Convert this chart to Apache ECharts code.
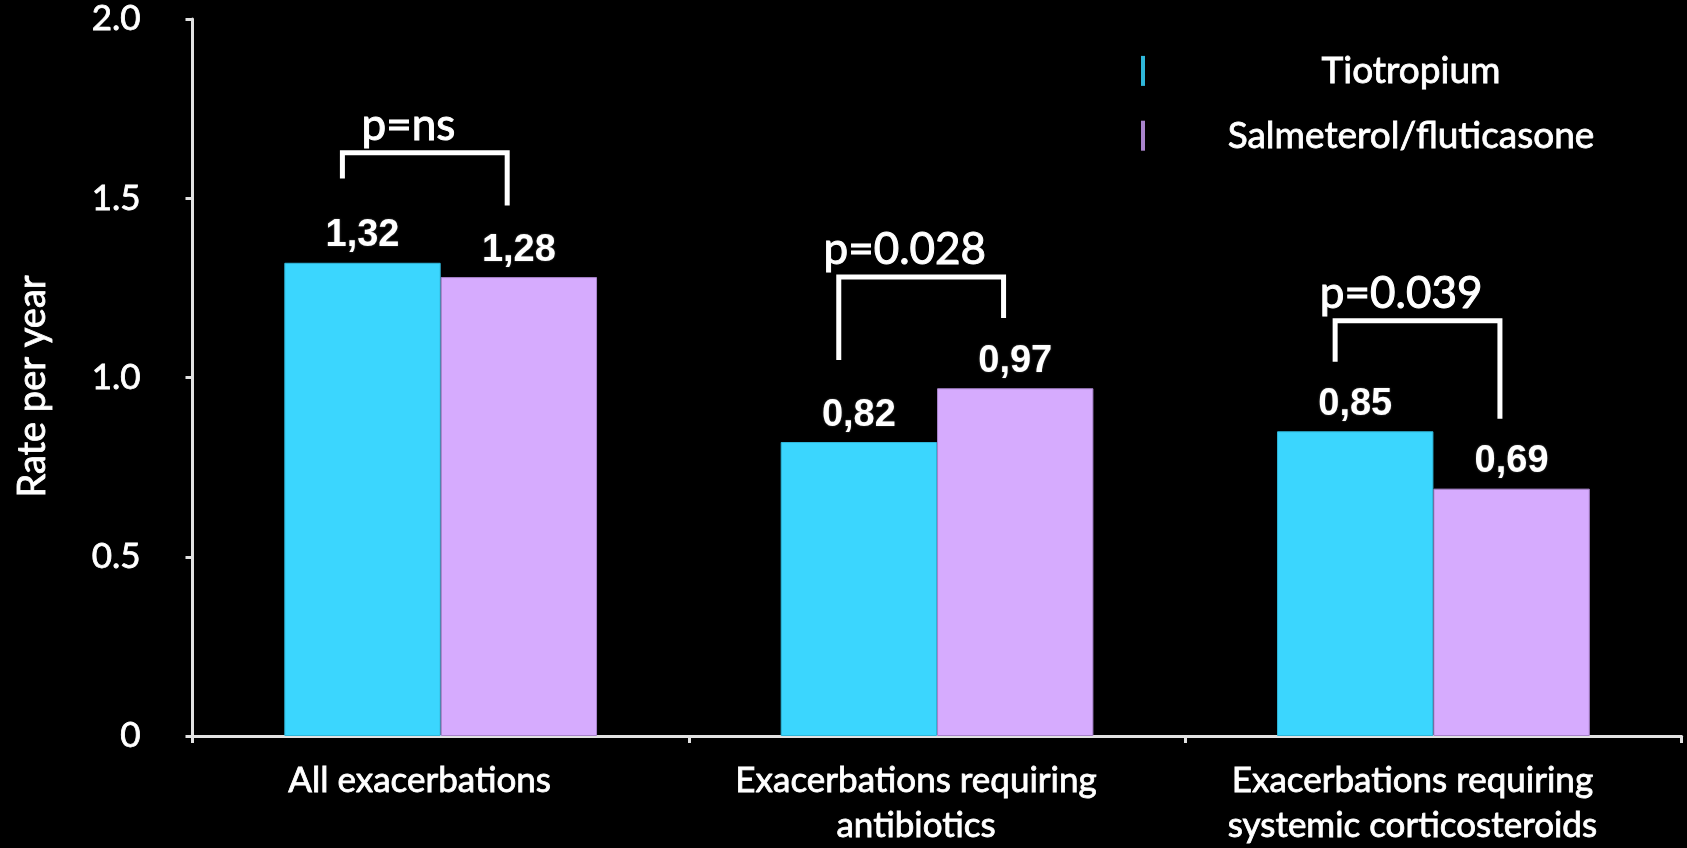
<!DOCTYPE html>
<html>
<head>
<meta charset="utf-8">
<title>Exacerbation rates</title>
<script src="https://cdn.jsdelivr.net/npm/echarts@6/dist/echarts.min.js"></script>
<style>
  html, body { margin: 0; padding: 0; background: #000; }
  #chart { width: 1687px; height: 848px; }
</style>
</head>
<body>
<div id="chart"></div>
<script>
// Annual exacerbation rates by treatment arm
const categories = [
  'All exacerbations',
  'Exacerbations requiring\nantibiotics',
  'Exacerbations requiring\nsystemic corticosteroids'
];
const seriesNames = ['Tiotropium', 'Salmeterol/fluticasone'];
const tiotropium = [1.32, 0.82, 0.85];
const salmeterolFluticasone = [1.28, 0.97, 0.69];
const yTickLabels = ['0', '0.5', '1.0', '1.5', '2.0'];

// Significance brackets: [category, bar level, left leg end, right leg end]
const bracketLevels = [
  [0, 1.627, 1.555, 1.480],
  [1, 1.280, 1.049, 1.166],
  [2, 1.158, 1.044, 0.885]
];
const pValues = ['p=ns', 'p=0.028', 'p=0.039'];

const COLORS = ['#3BD6FE', '#D6ABFE'];
const SANS = 'Lato, "Open Sans", sans-serif';
const THICKEN = { textBorderColor: '#fff', textBorderWidth: 0.8 };
const LEFT_LEG = -0.198;   // leg offsets as a fraction of the category band
const RIGHT_LEG = 0.134;
const TEXT_SHIFT = -0.065;

const chart = echarts.init(document.getElementById('chart'), null, { renderer: 'canvas' });

const valueLabel = {
  show: true,
  position: 'top',
  distance: 8,
  color: '#fff',
  fontFamily: '"Liberation Sans", Arial, sans-serif',
  fontWeight: 'bold',
  fontSize: 38,
  textShadowColor: 'rgba(255,255,255,0.35)',
  textShadowBlur: 2,
  formatter: p => p.value.toFixed(2).replace('.', ',')
};

chart.setOption({
  backgroundColor: '#000',
  animation: false,
  grid: { left: 192.5, right: 5.4, top: 19, bottom: 109.5, containLabel: false },
  legend: {
    orient: 'vertical',
    left: 1141,
    top: 52,
    padding: 0,
    icon: 'rect',
    itemWidth: 2,
    itemHeight: 28,
    itemGap: 27,
    data: seriesNames,
    formatter: '{t|{name}}',
    textStyle: {
      color: '#fff',
      rich: { t: Object.assign({ width: 524, height: 28, lineHeight: 28, align: 'center', fontSize: 37, fontFamily: SANS, color: '#fff' }, THICKEN) }
    }
  },
  xAxis: {
    type: 'category',
    data: categories,
    axisLine: { lineStyle: { color: '#e2e2e2', width: 3 } },
    axisTick: { show: true, length: 7, lineStyle: { color: '#e2e2e2', width: 3 } },
    axisLabel: Object.assign({
      color: '#fff',
      fontFamily: SANS,
      fontSize: 35,
      lineHeight: 45,
      margin: 22,
      padding: [0, 42, 0, 0],
      interval: 0
    }, THICKEN)
  },
  yAxis: {
    type: 'value',
    min: 0,
    max: 2,
    interval: 0.5,
    name: 'Rate per year',
    nameLocation: 'middle',
    nameRotate: 90,
    nameGap: 141,
    nameTextStyle: Object.assign({ color: '#fff', fontFamily: SANS, fontSize: 38, padding: [0, 18, 0, 0] }, THICKEN),
    splitLine: { show: false },
    axisLine: { show: true, lineStyle: { color: '#e2e2e2', width: 3 } },
    axisTick: { show: true, length: 7, lineStyle: { color: '#e2e2e2', width: 3 } },
    axisLabel: Object.assign({
      color: '#fff',
      fontFamily: SANS,
      fontSize: 35,
      margin: 52,
      padding: [12, 0, 0, 0],
      formatter: v => yTickLabels[Math.round(v / 0.5)]
    }, THICKEN)
  },
  series: [
    {
      name: seriesNames[0],
      type: 'bar',
      data: tiotropium,
      barGap: '0%',
      barCategoryGap: '37%',
      itemStyle: { color: COLORS[0], borderColor: '#2fb7da', borderWidth: 1 },
      label: valueLabel
    },
    {
      name: seriesNames[1],
      type: 'bar',
      data: salmeterolFluticasone,
      barGap: '0%',
      barCategoryGap: '37%',
      itemStyle: { color: COLORS[1], borderColor: '#a984cc', borderWidth: 1 },
      label: valueLabel
    },
    {
      name: 'brackets',
      type: 'custom',
      data: bracketLevels,
      silent: true,
      z: 5,
      renderItem: (params, api) => {
        const cat = api.value(0);
        const top = api.coord([cat, api.value(1)]);
        const left = api.coord([cat, api.value(2)]);
        const right = api.coord([cat, api.value(3)]);
        const band = api.size([1, 0])[0];
        const xl = top[0] + band * LEFT_LEG;
        const xr = top[0] + band * RIGHT_LEG;
        return {
          type: 'group',
          children: [
            {
              type: 'polyline',
              shape: { points: [[xl, left[1]], [xl, top[1]], [xr, top[1]], [xr, right[1]]] },
              style: { stroke: '#fff', lineWidth: 5, fill: null, lineJoin: 'miter', lineCap: 'butt' }
            },
            {
              type: 'text',
              style: {
                text: pValues[params.dataIndex],
                x: top[0] + band * TEXT_SHIFT,
                y: top[1] - 5,
                align: 'center',
                verticalAlign: 'bottom',
                fill: '#fff',
                stroke: '#fff',
                lineWidth: 1,
                fontFamily: SANS,
                fontSize: 44
              }
            }
          ]
        };
      }
    }
  ]
});
</script>
</body>
</html>
